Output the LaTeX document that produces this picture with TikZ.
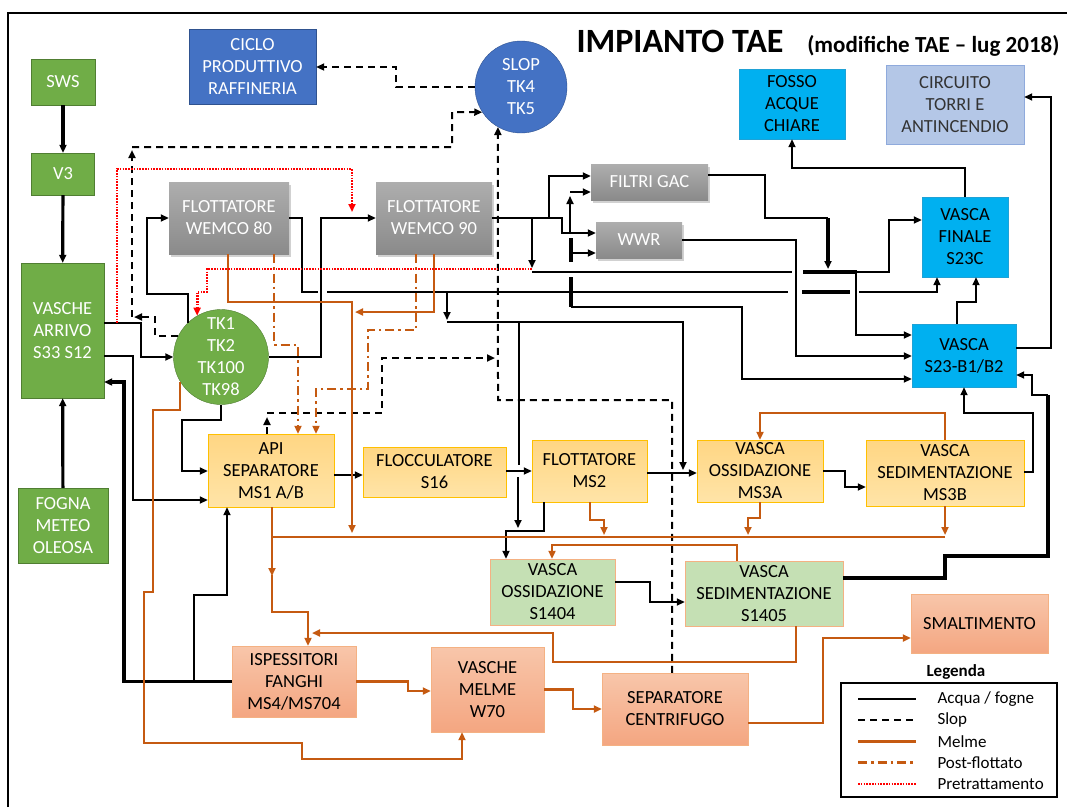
\documentclass[tikz,border=0pt]{standalone}
\usepackage{fontspec}
\setmainfont{Carlito}
\usetikzlibrary{arrows.meta,shadows}

\definecolor{cVerde}{HTML}{70AD47}
\definecolor{cVerdeB}{HTML}{507E32}
\definecolor{cBlu}{HTML}{4472C4}
\definecolor{cBluB}{HTML}{2F528F}
\definecolor{cCiano}{HTML}{00B0F0}
\definecolor{cCianoB}{HTML}{1FA2D6}
\definecolor{cAzz}{HTML}{B4C7E7}
\definecolor{cAzzB}{HTML}{8FAADC}
\definecolor{cGrigioT}{HTML}{AEAEAE}
\definecolor{cGrigioB}{HTML}{8A8A8A}
\definecolor{cGialloT}{HTML}{FFD683}
\definecolor{cGialloB}{HTML}{FFE4A8}
\definecolor{cGialloBord}{HTML}{FFC000}
\definecolor{cSalT}{HTML}{F8C6AA}
\definecolor{cSalB}{HTML}{F4A681}
\definecolor{cSalBord}{HTML}{F4B183}
\definecolor{cVerdeCh}{HTML}{C5E0B4}
\definecolor{cMelme}{HTML}{C55A11}

\tikzset{
  nodo/.style={draw, align=center, inner sep=0pt, font=\fontsize{18.5}{22}\selectfont},
  verdebox/.style={nodo, fill=cVerde, draw=cVerdeB, text=white},
  verdecirc/.style={nodo, circle, inner sep=-15pt, fill=cVerde, draw=cVerdeB, text=white},
  blubox/.style={nodo, fill=cBlu, draw=cBluB, text=white},
  blucirc/.style={nodo, circle, inner sep=-15pt, fill=cBlu, draw=cBluB, text=white},
  cianobox/.style={nodo, fill=cCiano, draw=cCianoB, text=black},
  azzbox/.style={nodo, fill=cAzz, draw=cAzzB, text=black!80},
  grigiobox/.style={nodo, draw=none, top color=cGrigioT, bottom color=cGrigioB, text=white,
    drop shadow={shadow xshift=2pt, shadow yshift=-3pt, opacity=0.3, fill=black!60}},
  giallobox/.style={nodo, top color=cGialloT, bottom color=cGialloB, draw=cGialloBord},
  salbox/.style={nodo, top color=cSalT, bottom color=cSalB, draw=cSalBord},
  verdechbox/.style={nodo, fill=cVerdeCh, draw=cSalBord},
  % linee della legenda
  acqua/.style={draw=black, line width=1.7pt},
  acquagrossa/.style={draw=black, line width=3.2pt},
  slopl/.style={draw=black, line width=2pt, dash pattern=on 7pt off 5pt},
  melme/.style={draw=cMelme, line width=2.6pt},
  postfl/.style={draw=cMelme, line width=2.6pt, dash pattern=on 9pt off 4pt on 2.5pt off 4pt},
  pretr/.style={draw=red, line width=2.8pt, dash pattern=on 1.6pt off 1.2pt},
}

\begin{document}
\begin{tikzpicture}[x=1pt, y=-1pt, >={Triangle[length=8pt,width=7pt]}]
\useasboundingbox (0,0) rectangle (1067,807);
% cornice
\draw[line width=1.4pt] (8,807) -- (8,13) -- (1067,13);

% titolo
\node[anchor=base west, font=\fontsize{34}{40}\selectfont\bfseries] (titolo) at (573,52) {IMPIANTO TAE};
\node[anchor=base east, font=\fontsize{23}{28}\selectfont\bfseries] (sottotitolo) at (1063,52) {(modifiche TAE -- lug 2018)};

% serbatoi e vasche
\node[verdebox, minimum width=64pt, minimum height=46pt] (sws) at (63,82) {SWS};
\node[verdebox, minimum width=63pt, minimum height=42pt] (v3) at (63,174) {V3};
\node[verdebox, minimum width=83pt, minimum height=135pt] (arrivo) at (62.5,330.5) {VASCHE\\ARRIVO\\S33 S12};
\node[verdebox, minimum width=90pt, minimum height=75pt] (fogna) at (63,525.5) {FOGNA\\METEO\\OLEOSA};
\node[blubox, minimum width=127pt, minimum height=75pt] (ciclo) at (252.5,66.5) {CICLO\\PRODUTTIVO\\RAFFINERIA};
\node[blucirc, minimum size=92pt] (slop) at (521,87) {SLOP\\TK4\\TK5};
\node[cianobox, minimum width=106pt, minimum height=70pt] (fosso) at (792,104) {FOSSO\\ACQUE\\CHIARE};
\node[azzbox, minimum width=138pt, minimum height=79pt] (torri) at (955,104.5) {CIRCUITO\\TORRI E\\ANTINCENDIO};
\node[cianobox, minimum width=86pt, minimum height=80pt] (finale) at (965,237) {VASCA\\FINALE\\S23C};
\node[cianobox, minimum width=104pt, minimum height=63pt] (s23) at (964,355.5) {VASCA\\S23-B1/B2};
\node[grigiobox, minimum width=120pt, minimum height=72pt] (wemcoA) at (229,218) {FLOTTATORE\\WEMCO 80};
\node[grigiobox, minimum width=116pt, minimum height=72pt] (wemcoB) at (434,218) {FLOTTATORE\\WEMCO 90};
\node[grigiobox, minimum width=117pt, minimum height=36pt] (gac) at (649.5,182) {FILTRI GAC};
\node[grigiobox, minimum width=86pt, minimum height=36pt] (wwr) at (639,240) {WWR};
\node[verdecirc, minimum size=95pt] (tk) at (221,357) {TK1\\TK2\\TK100\\TK98};
\node[giallobox, minimum width=126pt, minimum height=73pt] (api) at (271,470.5) {API\\SEPARATORE\\MS1 A/B};
\node[giallobox, minimum width=143pt, minimum height=50pt] (floc) at (434.5,472) {FLOCCULATORE\\S16};
\node[giallobox, minimum width=115pt, minimum height=62pt] (ms2) at (589.5,471) {FLOTTATORE\\MS2};
\node[giallobox, minimum width=126pt, minimum height=62pt] (ms3a) at (760,471) {VASCA\\OSSIDAZIONE\\MS3A};
\node[giallobox, minimum width=158pt, minimum height=66pt] (ms3b) at (945,473) {VASCA\\SEDIMENTAZIONE\\MS3B};
\node[verdechbox, minimum width=125pt, minimum height=66pt] (s1404) at (552.5,592) {VASCA\\OSSIDAZIONE\\S1404};
\node[verdechbox, minimum width=158pt, minimum height=65pt] (s1405) at (764,593.5) {VASCA\\SEDIMENTAZIONE\\S1405};
\node[salbox, minimum width=137pt, minimum height=59pt] (smalt) at (979.5,623.5) {SMALTIMENTO};
\node[salbox, minimum width=124pt, minimum height=71pt] (ispess) at (294,681.5) {ISPESSITORI\\FANGHI\\MS4/MS704};
\node[salbox, minimum width=113pt, minimum height=85pt] (w70) at (487.5,689.5) {VASCHE\\MELME\\W70};
\node[salbox, minimum width=146pt, minimum height=72pt] (centr) at (675,709) {SEPARATORE\\CENTRIFUGO};

% punti di diramazione
\coordinate (jpre) at (117,323);
\coordinate (jisp) at (194,681.5);
\coordinate (j447a) at (447,292);
\coordinate (j447b) at (447,322);
\coordinate (j519) at (519,322);
\coordinate (j532) at (532,218);
\coordinate (j532r) at (532,272);
\coordinate (jred) at (532,269);
\coordinate (j549) at (549,218);
\coordinate (j570) at (570,233);
\coordinate (j570b) at (570,192);
\coordinate (jbar) at (571,253);
\coordinate (jbar2) at (571,307);
\coordinate (jcollE) at (945,537);
\coordinate (jcollW) at (272,537);
\coordinate (jmel1) at (272,575);
\coordinate (jslop1) at (132,317);
\coordinate (jslop2) at (132,147);
\coordinate (jslop3) at (267,413);

% acqua / fogne
\draw[acquagrossa,->] (sws) -- (v3);
\draw[acquagrossa,->] (v3) -- (arrivo);
\draw[acquagrossa,->] (fogna) -- (arrivo);
\draw[acqua,->] (arrivo.east |- 0,323) -| (141,357) -- (tk);
\draw[acqua,->] (arrivo.east |- 0,356) -| (133,500) -- (api.west |- 0,500);
\draw[acquagrossa,->] (ispess.west) -| (124,382) -- (arrivo.east |- 0,382);
\draw[acqua,->] (jisp) |- (227,595) -- (api.south -| 227,0);
\draw[acqua,->] (tk.south) |- (182,420) |- (api.west |- 0,471);
\draw[acqua,->] (tk.134) |- (147,294) |- (wemcoA.west);
\draw[acqua,->] (tk.east) -| (321,218) -- (wemcoB.west);
\draw[acqua,->] (wemcoA.east) -| (302,292) -- (318,292) (327,292) -- (788,292) (859,292) -| (finale.south -| 937,0);
\draw[acquagrossa] (802,292) -- (850,292);
\draw[acqua,->] (j447a) -- (447,320);
\draw[acqua,->] (j447b) -| (683,470);
\draw[acqua,->] (j519) -- (519,465) (518,477) -- (518,528);
\draw[acqua,->] (wemcoB.east) -- (549,218) |- (gac.west |- 0,176);
\draw[acqua,->] (j549) -- (562,218) |- (wwr.west |- 0,233);
\draw[acqua,->] (j532) -- (532,268);
\draw[acqua,->] (j570) -- (570,196);
\draw[acqua,->] (j570b) -- (gac.west |- 0,192);
\draw[acquagrossa] (571,238) -- (571,262);
\draw[acqua,->] (jbar) -- (wwr.west |- 0,253);
\draw[acquagrossa] (571,277) -- (571,307);
\draw[acqua,->] (jbar2) -| (742,379) -- (s23.west |- 0,379);
\draw[acqua] (j532r) -- (792,272);
\draw[acquagrossa] (803,272) -- (857,272);
\draw[acqua,->] (857,272) -| (889,220) -- (finale.west |- 0,220);
\draw[acqua,->] (856,272) |- (s23.west |- 0,335);
\draw[acqua] (gac.east |- 0,175) -| (765,218) -- (828,218);
\draw[acquagrossa,->] (828,218) -- (828,269);
\draw[acqua,->] (wwr.east) -| (796,356) -- (s23.west |- 0,356);
\draw[acqua,->] (s23.north -| 957,0) |- (976,302) -- (finale.south -| 976,0);
\draw[acqua,->] (finale.north) |- (792,168) -- (fosso.south);
\draw[acqua,->] (s23.east |- 0,348) -| (1051,97) -- (torri.east |- 0,97);
\draw[acqua,->] (api.east |- 0,475) -- (floc.west |- 0,475);
\draw[acqua,->] (floc.east |- 0,471) -- (ms2.west |- 0,471);
\draw[acqua,->] (ms2.east |- 0,473) -- (ms3a.west |- 0,473);
\draw[acqua,->] (ms3a.east) -| (845,487) -- (ms3b.west |- 0,487);
\draw[acqua,->] (ms3b.east |- 0,472) -| (1033,413) -| (s23.south -| 964,0);
\draw[acqua,->] (ms2.south -| 544,0) |- (506,531) -- (s1404.north -| 506,0);
\draw[acqua,->] (s1404.east |- 0,582) -| (650,602) -- (s1405.west |- 0,602);
\draw[acquagrossa] (s1405.east |- 0,578) -| (945,556) -| (1048,395);
\draw[acqua,->] (1048,395) -- (1032,395) |- (s23.east |- 0,375);

% slop
\draw[slopl,->] (slop.west) -| (396,67) -- (ciclo.east |- 0,67);
\draw[slopl,->] (tk.154) -| (155,317) -- (134,317);
\draw[slopl,->] (jslop1) -- (132,150);
\draw[slopl,->] (jslop2) -| (452,112) -- (slop.213);
\draw[slopl,->] (api.north -| 267,0) -- (267,417);
\draw[slopl,->] (jslop3) -| (382,358) -- (495,358);
\draw[slopl,->] (centr.north -| 672,0) |- (498,400) -- (slop.240);

% melme
\draw[melme,->] (wemcoA.south -| 228,0) |- (352,302) -- (352,533);
\draw[melme,->] (wemcoB.south) |- (355,312);
\draw[melme] (jcollE) -- (jcollW);
\draw[melme,->] (api.south -| 272,0) -- (272,576);
\draw[melme,->] (jmel1) |- (308,612) -- (ispess.north -| 308,0);
\draw[melme,->] (ms3b.south) -- (945,535);
\draw[melme,->] (ms3a.south) |- (748,518) -- (748,535);
\draw[melme,->] (ms2.south -| 590,0) |- (604,520) -- (604,535);
\draw[melme,->] (ms3b.north) |- (760,413) -- (ms3a.north);
\draw[melme,->] (s1405.north -| 737,0) |- (552,545) -- (s1404.north -| 552,0);
\draw[melme,->] (s1405.south -| 796,0) |- (553,662) |- (312,633);
\draw[melme,->] (tk.211) |- (153,410) |- (144,592) |- (302,743) |- (462,759) -- (w70.south -| 462,0);
\draw[melme,->] (ispess.east) -| (408,691) -- (w70.west |- 0,691);
\draw[melme,->] (w70.east) -| (573,709) -- (centr.west);
\draw[melme,->] (centr.east |- 0,723) -| (823,638) -- (smalt.west |- 0,638);

% post-flottato
\draw[postfl,->] (wemcoA.south -| 274,0) |- (298,345) -- (api.north -| 298,0);
\draw[postfl,->] (wemcoB.south -| 416,0) |- (368,330) |- (316,389) -- (api.north -| 316,0);

% pretrattamento
\draw[pretr,->] (jpre) |- (352,169) -- (352,212);
\draw[pretr,->] (jred) -| (207,292) -| (tk.120);

% legenda
\node[anchor=base west, font=\fontsize{17}{20}\selectfont\bfseries] (legenda) at (923,676) {Legenda};
\draw[line width=1.4pt] (841,683) rectangle (1057,797);
\foreach \sty/\lab [count=\i] in {acqua/{Acqua / fogne}, slopl/Slop, melme/Melme, postfl/Post-flottato, pretr/Pretrattamento}{
  \pgfmathsetmacro\yy{699+21.25*(\i-1)}
  \draw[\sty] (858,\yy) -- (916,\yy);
  \node[anchor=west, font=\fontsize{17}{20}\selectfont] (leg\i) at (934,\yy) {\lab};
}
\end{tikzpicture}
\end{document}
